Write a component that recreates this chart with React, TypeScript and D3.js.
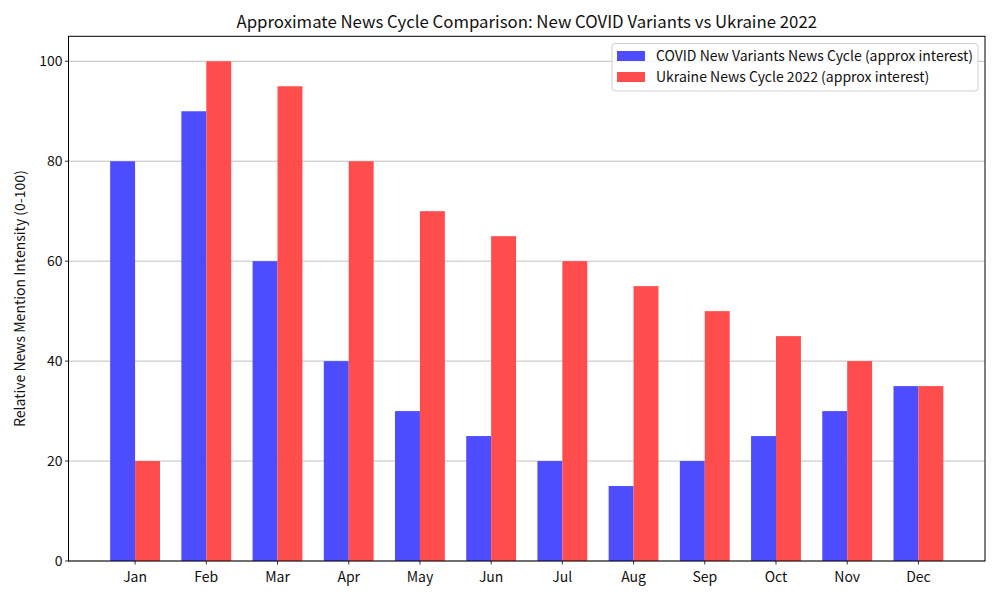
import * as d3 from "d3";

const months = ["Jan", "Feb", "Mar", "Apr", "May", "Jun", "Jul", "Aug", "Sep", "Oct", "Nov", "Dec"];
const covidValues = [80, 90, 60, 40, 30, 25, 20, 15, 20, 25, 30, 35];
const ukraineValues = [20, 100, 95, 80, 70, 65, 60, 55, 50, 45, 40, 35];
const yTicks = [0, 20, 40, 60, 80, 100];
const seriesNames = [
  "COVID New Variants News Cycle (approx interest)",
  "Ukraine News Cycle 2022 (approx interest)",
];

const W = 1000;
const H = 600;
const left = 68.5;
const right = 985;
const top = 36.3;
const bottom = 561;
const barW = 0.35;
const font = "'Noto Sans CJK JP', 'Noto Sans', sans-serif";
const blue = "rgb(77,77,255)";
const red = "rgb(255,77,77)";
const fs = 14;

// matplotlib-like linear x domain with 5% margins
const x = d3.scaleLinear().domain([-0.935, 11.935]).range([left, right]);
const y = d3.scaleLinear().domain([0, 105]).range([bottom, top]);

function App() {
  return (
    <svg width={W} height={H} style={{ position: "absolute", left: 0, top: 0, fontFamily: font }}>
      <rect width={W} height={H} fill="white" />
      {yTicks.map((t) => (
        <line key={t} x1={left} x2={right} y1={y(t)} y2={y(t)} stroke="#b0b0b0" strokeWidth={0.8} />
      ))}
      {months.map((m, i) => (
        <g key={m}>
          <rect x={x(i - barW)} y={y(covidValues[i])} width={x(barW) - x(0)} height={bottom - y(covidValues[i])} fill={blue} />
          <rect x={x(i)} y={y(ukraineValues[i])} width={x(barW) - x(0)} height={bottom - y(ukraineValues[i])} fill={red} />
        </g>
      ))}
      <rect x={left} y={top} width={right - left} height={bottom - top} fill="none" stroke="black" strokeWidth={1} />
      {yTicks.map((t) => (
        <g key={t} transform={`translate(${left},${y(t)})`}>
          <line x1={-3.5} x2={0} stroke="black" strokeWidth={0.8} />
          <text x={-6} dy="0.35em" textAnchor="end" fontSize={fs} fill="#111">{t}</text>
        </g>
      ))}
      {months.map((m, i) => (
        <g key={m} transform={`translate(${x(i)},${bottom})`}>
          <line y1={0} y2={3.5} stroke="black" strokeWidth={0.8} />
          <text y={21} textAnchor="middle" fontSize={fs} fill="#111">{m}</text>
        </g>
      ))}
      <text x={(left + right) / 2} y={28} textAnchor="middle" fontSize={16.8} fill="#111">
        Approximate News Cycle Comparison: New COVID Variants vs Ukraine 2022
      </text>
      <text transform={`translate(25,${(top + bottom) / 2}) rotate(-90)`} textAnchor="middle" fontSize={fs} fill="#111">
        Relative News Mention Intensity (0-100)
      </text>
      <g>
        <rect x={612} y={43.5} width={366} height={47.5} rx={3} fill="white" fillOpacity={0.8} stroke="#d0d0d0" strokeWidth={1} />
        {seriesNames.map((s, i) => (
          <g key={s} transform={`translate(617,${56 + i * 21})`}>
            <rect x={0} y={-5} width={28} height={10} fill={i === 0 ? blue : red} />
            <text x={39} dy="0.35em" fontSize={fs} fill="#111">{s}</text>
          </g>
        ))}
      </g>
    </svg>
  );
}

export default App;
